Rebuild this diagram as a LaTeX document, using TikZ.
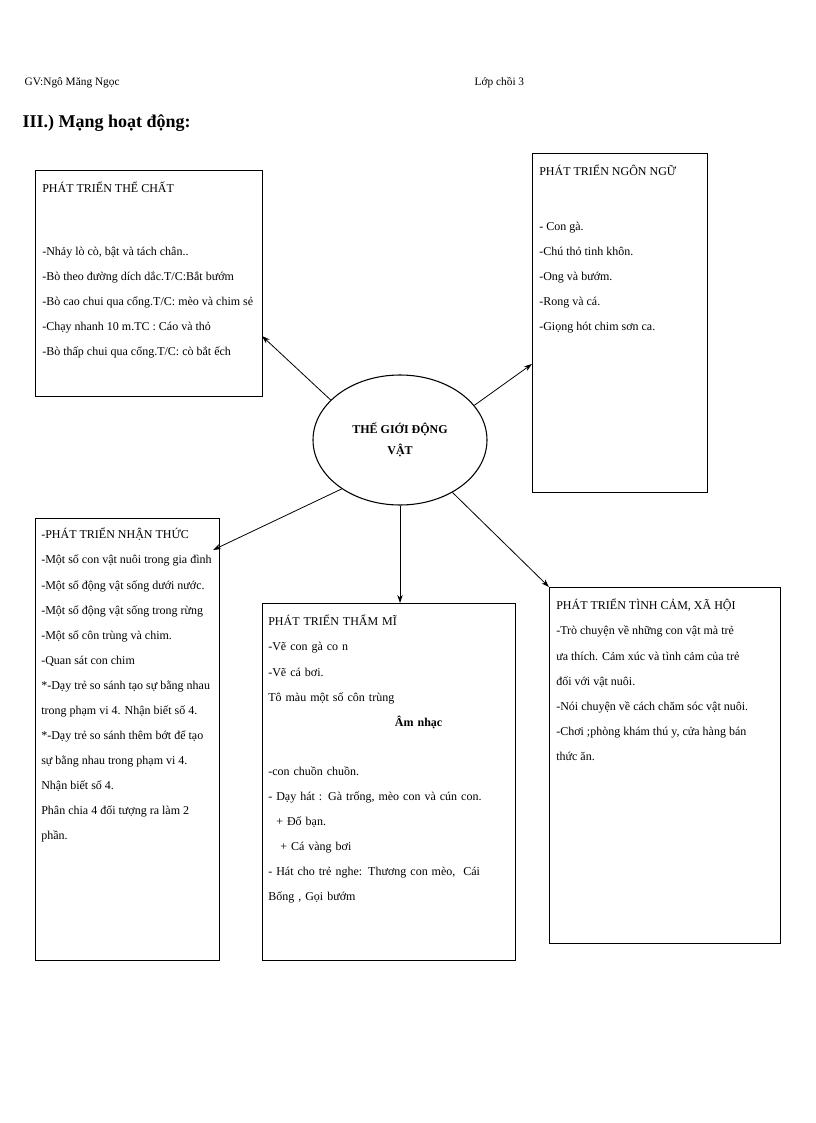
\documentclass[tikz,border=0pt]{standalone}
\usepackage{fontspec}
\setmainfont{Liberation Serif}
\usetikzlibrary{arrows.meta,shapes.geometric}
\begin{document}
\begin{tikzpicture}[x=0.75pt,y=-0.75pt,
  box/.style={draw,line width=0.8pt,anchor=north west,inner sep=0pt},
  txt/.style={anchor=north west,align=left,inner sep=0pt,font=\fontsize{9}{18.8}\selectfont},
  arr/.style={-{Stealth[length=6pt,width=4pt]},line width=0.6pt}]
\useasboundingbox (0,0) rectangle (816,1123);
\node[anchor=base west,font=\fontsize{8.5}{10}\selectfont] (gv) at (20,86) {GV:Ngô  Măng Ngọc};
\node[anchor=base west,font=\fontsize{8.5}{10}\selectfont] (lop) at (470,86) {Lớp chồi 3};
\node[anchor=base west,font=\bfseries\fontsize{13.5}{14}\selectfont] (tt) at (18,128) {III.) Mạng hoạt động:};

\node[box,minimum width=227*0.75pt,minimum height=226*0.75pt] (tc) at (35,170) {};
\node[txt] (tct) at (42,182) {PHÁT TRIỂN THỂ CHẤT\\[28pt]-Nhảy lò cò, bật và tách chân..\\-Bò theo đường dích dắc.T/C:Bắt bướm\\-Bò cao chui qua cổng.T/C: mèo và chim sẻ\\-Chạy nhanh 10 m.TC : Cáo và thỏ\\-Bò thấp chui qua cổng.T/C: cò bắt ếch};

\node[box,minimum width=175*0.75pt,minimum height=339*0.75pt] (nn) at (532,153) {};
\node[txt] (nnt) at (539,165) {PHÁT TRIỂN NGÔN NGỮ\\[22pt]- Con gà.\\-Chú thỏ tinh khôn.\\-Ong và bướm.\\-Rong và cá.\\-Giọng hót chim sơn ca.};

\node[draw,ellipse,line width=0.8pt,minimum width=174*0.75pt,minimum height=130*0.75pt,align=center,font=\bfseries\fontsize{9}{16}\selectfont] (c) at (400,440) {THẾ GIỚI ĐỘNG\\VẬT};

\node[box,minimum width=184*0.75pt,minimum height=442*0.75pt] (nt) at (35,518) {};
\node[txt] (ntt) at (41,528) {-PHÁT TRIỂN NHẬN THỨC\\-Một số con vật nuôi trong gia đình\\-Một số động vật sống dưới nước.\\-Một số động vật sống trong rừng\\-Một số côn trùng và chim.\\-Quan sát con chim\\*-Dạy trẻ so sánh tạo sự bằng nhau\\trong phạm vi 4. Nhận biết số 4.\\*-Dạy trẻ so sánh thêm bớt để tạo\\sự bằng nhau trong phạm vi 4.\\Nhận biết số 4.\\ Phân chia 4 đối tượng ra làm 2\\phần.};

\node[box,minimum width=253*0.75pt,minimum height=357*0.75pt] (tm) at (262,603) {};
\node[txt,text width=240*0.75pt] (tmt) at (268,615) {PHÁT TRIỂN THẨM MĨ\\-Vẽ con gà co n\\-Vẽ cá bơi.\\Tô màu một số côn trùng\\\hspace*{95pt}\textbf{Âm nhạc}\\[18pt]-con chuồn chuồn.\\- Dạy hát : Gà trống, mèo con và cún con.\\\ \ + Đố bạn.\\\ \ \ + Cá vàng bơi\\- Hát cho trẻ nghe: Thương con mèo, \ Cái\\Bống , Gọi bướm};

\node[box,minimum width=231*0.75pt,minimum height=356*0.75pt] (tcxh) at (549,587) {};
\node[txt] (tcxht) at (556,599) {PHÁT TRIỂN TÌNH CẢM, XÃ HỘI\\-Trò chuyện về những con vật mà trẻ\\ưa thích. Cảm xúc và tình cảm của trẻ\\đối với vật nuôi.\\-Nói chuyện về cách chăm sóc vật nuôi.\\-Chơi ;phòng khám thú y, cửa hàng bán\\thức ăn.};

\draw[arr] (c.150) -- (262,336);
\draw[arr] (c.25) -- (532,364);
\draw[arr] (c.220) -- (213,550);
\draw[arr] (c.south) -- (tm.north -| c.south);
\draw[arr] (c.315) -- (549,587);
\end{tikzpicture}
\end{document}
